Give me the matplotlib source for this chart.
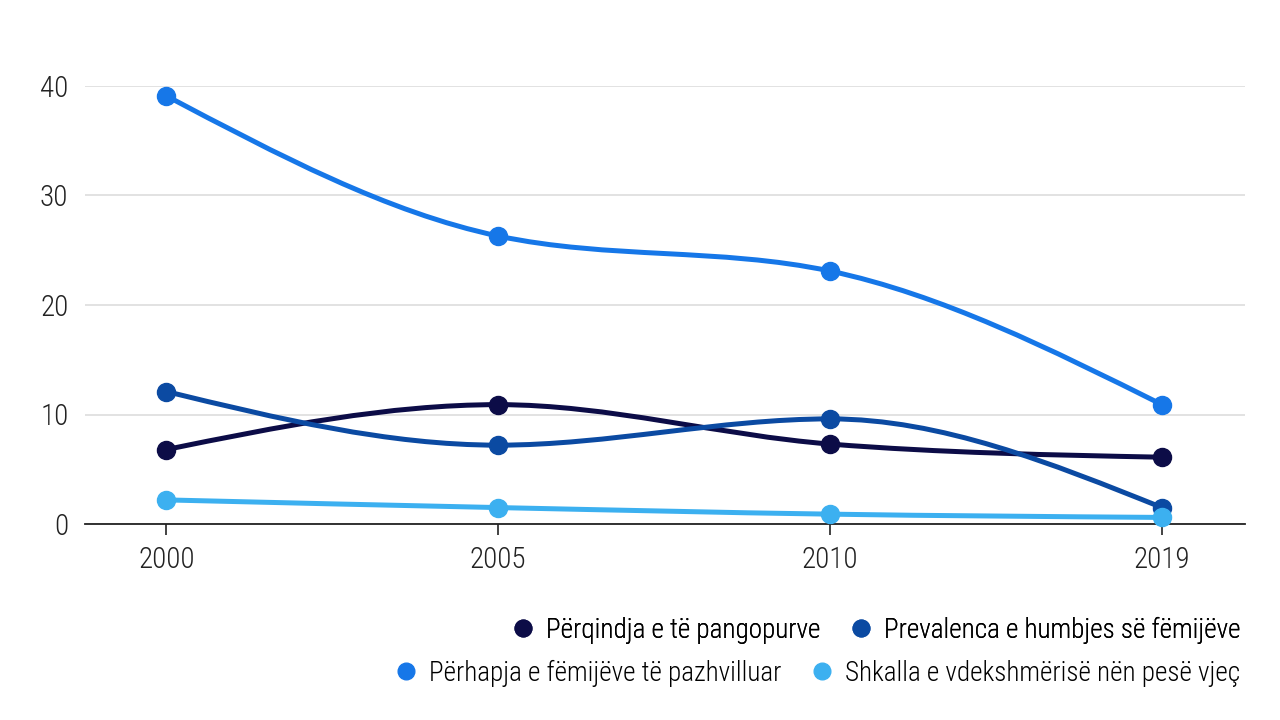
import numpy as np
import matplotlib.pyplot as plt
from matplotlib import font_manager as fm
from matplotlib.path import Path
from matplotlib.patches import PathPatch
from matplotlib.lines import Line2D

installed = set(f.name for f in fm.fontManager.ttflist)
narrow = [f for f in ['Roboto Condensed', 'Archivo Narrow', 'PT Sans Narrow', 'Liberation Sans']
          if f in installed]
plt.rcParams['font.family'] = narrow[:1] + ['DejaVu Sans']
plt.rcParams['font.weight'] = 'light'

years = ["2000", "2005", "2010", "2019"]

perqindja = [6.8, 10.9, 7.3, 6.1]      # Përqindja e të pangopurve
prevalenca = [12.1, 7.2, 9.6, 1.5]     # Prevalenca e humbjes së fëmijëve
perhapja = [39.1, 26.3, 23.1, 10.9]    # Përhapja e fëmijëve të pazhvilluar
shkalla = [2.2, 1.5, 0.9, 0.6]         # Shkalla e vdekshmërisë nën pesë vjeç

series = [
    ("Përqindja e të pangopurve", perqindja, "#0c0c47"),
    ("Prevalenca e humbjes së fëmijëve", prevalenca, "#0b4aa2"),
    ("Përhapja e fëmijëve të pazhvilluar", perhapja, "#1677e8"),
    ("Shkalla e vdekshmërisë nën pesë vjeç", shkalla, "#3cb0f0"),
]


def monotone_path(x, y):
    # monotone cubic (like d3 curveMonotoneX), drawn as bezier segments
    x = np.asarray(x, float)
    y = np.asarray(y, float)
    n = len(x)
    h = np.diff(x)
    s = np.diff(y) / h
    t = np.zeros(n)
    for i in range(1, n - 1):
        p = (s[i - 1] * h[i] + s[i] * h[i - 1]) / (h[i - 1] + h[i])
        t[i] = (np.sign(s[i - 1]) + np.sign(s[i])) * min(abs(s[i - 1]), abs(s[i]), 0.5 * abs(p))
    t[0] = (3 * s[0] - t[1]) / 2
    t[-1] = (3 * s[-1] - t[-2]) / 2
    verts = [(x[0], y[0])]
    codes = [Path.MOVETO]
    for i in range(n - 1):
        dx = h[i] / 3
        verts += [(x[i] + dx, y[i] + dx * t[i]),
                  (x[i + 1] - dx, y[i + 1] - dx * t[i + 1]),
                  (x[i + 1], y[i + 1])]
        codes += [Path.CURVE4] * 3
    return Path(verts, codes)


fig = plt.figure(figsize=(12.8, 7.2), dpi=100)
ax = fig.add_axes([85 / 1280, 1 - 524 / 720, 1160 / 1280, 438 / 720])

xs = np.arange(len(years))
handles = []
for label, vals, color in series:
    patch = PathPatch(monotone_path(xs, vals), facecolor='none', edgecolor=color,
                      linewidth=3.6, capstyle='round', joinstyle='round', zorder=3, clip_on=False)
    ax.add_patch(patch)
    ax.plot(xs, vals, 'o', color=color, markersize=13, zorder=4, clip_on=False)
    handles.append(Line2D([], [], marker='o', linestyle='none', color=color, markersize=12, label=label))

ax.set_xlim(-0.245, 3.25)
ax.set_ylim(0, 40)
ax.set_xticks(xs)
ax.set_xticklabels(years)
ax.set_yticks([0, 10, 20, 30, 40])
ax.tick_params(axis='x', length=8, width=1.2, color='#222222', labelsize=21, pad=8, labelcolor='#222222')
ax.tick_params(axis='y', length=0, labelsize=21, pad=12, labelcolor='#222222')
ax.grid(axis='y', color='#dddddd', linewidth=1.2)
ax.set_axisbelow(True)
for side in ['top', 'right', 'left']:
    ax.spines[side].set_visible(False)
ax.spines['bottom'].set_color('#222222')
ax.spines['bottom'].set_linewidth(1.3)
ax.spines['bottom'].set_zorder(2)

leg_kw = dict(ncol=2, loc='upper right', frameon=False, fontsize=19.5,
              handletextpad=0.35, columnspacing=1.0, handlelength=1.0, borderpad=0)
leg1 = fig.legend(handles=[handles[0], handles[1]], bbox_to_anchor=(1254 / 1280, 1 - 603 / 720), **leg_kw)
fig.legend(handles=[handles[2], handles[3]], bbox_to_anchor=(1254 / 1280, 1 - 646 / 720), **leg_kw)
fig.add_artist(leg1)

fig.savefig("out.png", dpi=100)
